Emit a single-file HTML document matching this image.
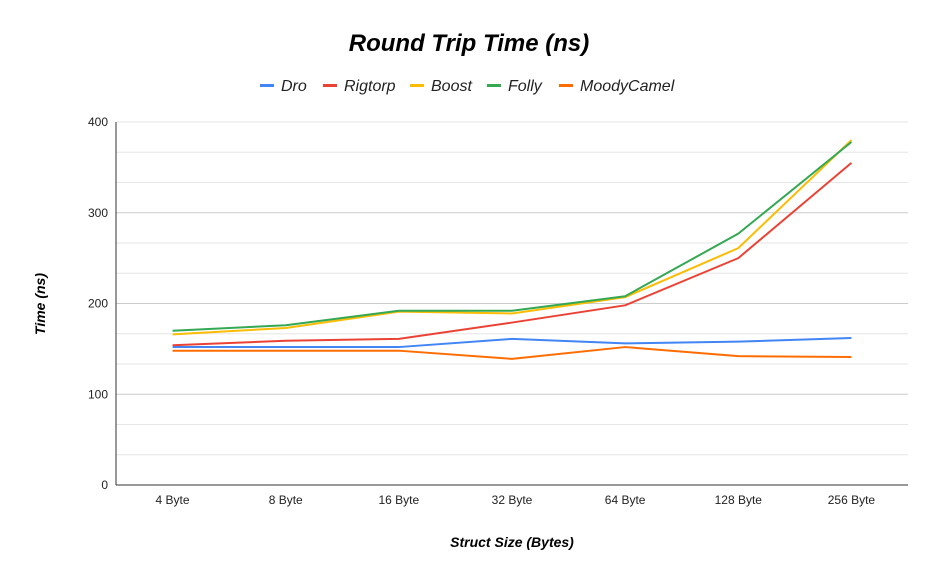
<!DOCTYPE html>
<html><head><meta charset="utf-8"><style>
body{margin:0;background:#fff;font-family:"Liberation Sans",Arial,sans-serif}
</style></head><body>
<svg id="chart" width="937" height="580" xmlns="http://www.w3.org/2000/svg" font-family="Liberation Sans, Arial, sans-serif">
<rect width="937" height="580" fill="#fff"/>
<text x="469" y="51" text-anchor="middle" font-size="24" font-weight="bold" font-style="italic" fill="#000">Round Trip Time (ns)</text>
<g id="grid"></g><g id="axes"></g><g id="series"></g><g id="legend"></g>
<text x="512" y="547" text-anchor="middle" font-size="14" font-weight="bold" font-style="italic" fill="#000">Struct Size (Bytes)</text>
<text transform="translate(45,304) rotate(-90)" text-anchor="middle" font-size="14" font-weight="bold" font-style="italic" fill="#000">Time (ns)</text>
</svg>
<script>
const categories=["4 Byte","8 Byte","16 Byte","32 Byte","64 Byte","128 Byte","256 Byte"];
const seriesNames=["Dro","Rigtorp","Boost","Folly","MoodyCamel"];
const seriesColors=["#4285f4","#ea4335","#fbbc04","#34a853","#ff6d01"];
const dro=[152,152,152,161,156,158,162];
const rigtorp=[154,159,161,179,198,250,355];
const boost=[166,173,191,189,207,261,380];
const folly=[170,176,192,192,208,277,378];
const moody=[148,148,148,139,152,142,141];
const yTicks=[0,100,200,300,400];
const NS="http://www.w3.org/2000/svg";
const L=116,R=908,T=122,B=485,yMax=400;
const y=v=>B-(v/yMax)*(B-T);
const bw=(R-L)/categories.length;
const x=i=>L+bw*(i+0.5);
function mk(tag,attrs,parent){const e=document.createElementNS(NS,tag);for(const k in attrs)e.setAttribute(k,attrs[k]);parent.appendChild(e);return e;}
const grid=document.getElementById('grid'),axes=document.getElementById('axes'),ser=document.getElementById('series'),leg=document.getElementById('legend');
for(let v=0;v<=yMax;v+=yMax/12){
 const g=mk('line',{x1:L,x2:R,y1:y(v),y2:y(v),stroke:Math.abs(v%100)<0.01?'#ccc':'#e6e6e6','stroke-width':1},grid);
 
 
}
yTicks.forEach(v=>{
 const t=mk('text',{x:L-8,y:y(v)+4,'text-anchor':'end','font-size':12,fill:'#222'},axes);t.textContent=v;
 
 
});
const ax=mk('line',{x1:L,x2:R,y1:B,y2:B,stroke:'#333','stroke-width':1},axes);


const ay=mk('line',{x1:L,x2:L,y1:T,y2:B,stroke:'#333','stroke-width':1},axes);


categories.forEach((c,i)=>{
 const t=mk('text',{x:x(i),y:B+19,'text-anchor':'middle','font-size':12,fill:'#222'},axes);t.textContent=c;
 
 
});
const data=[dro,rigtorp,boost,folly,moody];
data.forEach((d,s)=>{
 const p=mk('polyline',{points:d.map((v,i)=>x(i)+','+y(v)).join(' '),fill:'none',stroke:seriesColors[s],'stroke-width':2,'stroke-linejoin':'round'},ser);
 
 
});
const lx=[260,323,410,487,559];
seriesNames.forEach((n,s)=>{
 const g=mk('g',{},leg);
 
 
 mk('rect',{x:lx[s],y:84,width:14,height:3,fill:seriesColors[s]},g);
 const t=mk('text',{x:lx[s]+21,y:91,'font-size':16,'font-style':'italic',fill:'#222'},g);t.textContent=n;
});
</script>
</body></html>
